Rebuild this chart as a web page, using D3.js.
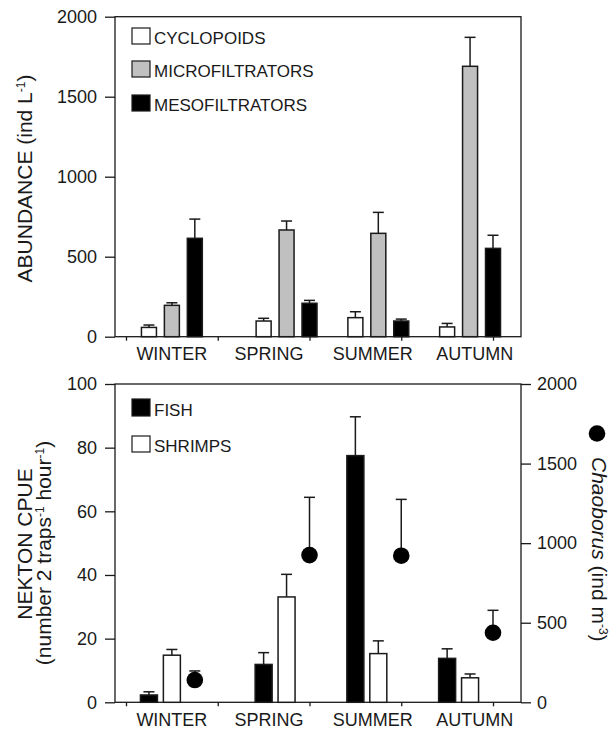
<!DOCTYPE html>
<html>
<head>
<meta charset="utf-8">
<script src="https://cdn.jsdelivr.net/npm/d3@7"></script>
<style>
  html, body { margin: 0; padding: 0; background: #fff; }
  svg { display: block; font-family: "Liberation Sans", Arial, Helvetica, sans-serif; }
</style>
</head>
<body>
<svg id="chart" width="611" height="731"></svg>
<script>
// Seasonal zooplankton abundance (upper panel) and nekton / Chaoborus (lower panel)
const seasons = ["WINTER", "SPRING", "SUMMER", "AUTUMN"];

// Zooplankton abundance (ind L-1) and upper error
const cyclopoids    = [58, 98, 119, 61];
const cyclopoidsErr = [15, 17, 37, 22];
const microfilt     = [196, 667, 646, 1690];
const microfiltErr  = [16, 56, 131, 181];
const mesofilt      = [615, 209, 98, 552];
const mesofiltErr   = [120, 18, 12, 82];

// Nekton CPUE (number 2 traps-1 hour-1)
const fish        = [2.3, 11.9, 77.5, 13.8];
const fishErr     = [1.0, 3.7, 12.2, 3.0];
const shrimps     = [14.8, 33.1, 15.3, 7.7];
const shrimpsErr  = [1.8, 7.1, 4.0, 1.2];

// Chaoborus density (ind m-3)
const chaoborus    = [140, 925, 921, 437];
const chaoborusErr = [57, 363, 354, 141];

// Tick values
const abundanceTicks = [0, 500, 1000, 1500, 2000];
const cpueTicks      = [0, 20, 40, 60, 80, 100];
const chaoborusTicks = [0, 500, 1000, 1500, 2000];
const slotTicks      = [0, 1, 2, 3, 4];

// ---- layout ----
const ink = "#1a1a1a";
const plotLeft = 115, plotRight = 521;
const groupSlot = [0.5, 1.75, 2.75, 3.75];   // centre of each season's group
const labelSlot = [0.5, 1.56, 2.69, 3.8];    // season label positions
const x = d3.scaleLinear().domain([0, 4]).range([126, 493]);

const svg = d3.select("#chart");

const yTop  = d3.scaleLinear().domain([0, 2000]).range([336.7, 16.7]);
const yBot  = d3.scaleLinear().domain([0, 100]).range([702.3, 384]);
const yChao = d3.scaleLinear().domain([0, 2000]).range([702.3, 384]);

function frame(g, y) {
  const [y0, y1] = y.range();
  g.append("rect")
    .attr("x", plotLeft).attr("y", y1)
    .attr("width", plotRight - plotLeft).attr("height", y0 - y1)
    .attr("fill", "none").attr("stroke", ink).attr("stroke-width", 1.3);
}

function styleAxis(g, fontSize) {
  g.select(".domain").remove();
  g.selectAll(".tick line").attr("stroke", ink).attr("stroke-width", 1.3);
  g.selectAll(".tick text").attr("fill", ink).attr("font-size", fontSize)
    .attr("font-family", "Liberation Sans, Arial, sans-serif");
}

function slotAxis(g, y) {
  const ax = g.append("g").attr("transform", `translate(0,${y.range()[0]})`)
    .call(d3.axisBottom(x).tickValues(slotTicks).tickSize(4).tickFormat(""));
  styleAxis(ax, 18);
}

function seasonLabels(g, yPos) {
  g.append("g").selectAll("text").data(seasons).join("text")
    .attr("x", (d, i) => x(labelSlot[i]))
    .attr("y", yPos)
    .attr("text-anchor", "middle")
    .attr("font-size", 18)
    .attr("fill", ink)
    .text(d => d);
}

function bars(g, values, errs, y, offset, width, fill) {
  const gg = g.append("g");
  const cx = i => x(groupSlot[i] + offset);
  // error whiskers (upper only)
  gg.selectAll("line.err").data(values).join("line")
    .attr("x1", (d, i) => cx(i)).attr("x2", (d, i) => cx(i))
    .attr("y1", d => y(d)).attr("y2", (d, i) => y(d + errs[i]))
    .attr("stroke", ink).attr("stroke-width", 1.5);
  gg.selectAll("line.cap").data(values).join("line")
    .attr("x1", (d, i) => cx(i) - 5.5).attr("x2", (d, i) => cx(i) + 5.5)
    .attr("y1", (d, i) => y(d + errs[i])).attr("y2", (d, i) => y(d + errs[i]))
    .attr("stroke", ink).attr("stroke-width", 1.5);
  gg.selectAll("rect").data(values).join("rect")
    .attr("x", (d, i) => cx(i) - width / 2)
    .attr("width", width)
    .attr("y", d => y(d))
    .attr("height", d => y(0) - y(d))
    .attr("fill", fill).attr("stroke", ink).attr("stroke-width", 1.5);
}

function legendRow(g, lx, ly, w, h, fill, label, size) {
  g.append("rect").attr("x", lx).attr("y", ly).attr("width", w).attr("height", h)
    .attr("fill", fill).attr("stroke", ink).attr("stroke-width", 1.2);
  g.append("text").attr("x", lx + w + 4).attr("y", ly + h - 0.5)
    .attr("font-size", size).attr("fill", ink).text(label);
}

// ================= upper panel: zooplankton =================
const upper = svg.append("g");
frame(upper, yTop);
const yAxTop = upper.append("g").attr("transform", `translate(${plotLeft},0)`)
  .call(d3.axisLeft(yTop).tickValues(abundanceTicks).tickSize(10).tickPadding(8).tickFormat(d3.format("d")));
styleAxis(yAxTop, 18);
slotAxis(upper, yTop);

bars(upper, cyclopoids, cyclopoidsErr, yTop, -0.25, 15, "#ffffff");
bars(upper, microfilt, microfiltErr, yTop, 0, 15, "#c0c0c0");
bars(upper, mesofilt, mesofiltErr, yTop, 0.25, 15, "#000000");
seasonLabels(upper, 360);

legendRow(upper, 132, 28, 18, 16, "#ffffff", "CYCLOPOIDS", 17);
legendRow(upper, 132, 61, 18, 16, "#c0c0c0", "MICROFILTRATORS", 17);
legendRow(upper, 132, 95, 18, 16, "#000000", "MESOFILTRATORS", 17);

const tTitle = upper.append("text")
  .attr("transform", "translate(31.5,178.5) rotate(-90)")
  .attr("text-anchor", "middle").attr("font-size", 21).attr("fill", ink);
tTitle.append("tspan").text("ABUNDANCE (ind L");
tTitle.append("tspan").attr("font-size", 12).attr("baseline-shift", "55%").text("-1");
tTitle.append("tspan").text(")");

// ================= lower panel: nekton + Chaoborus =================
const lower = svg.append("g");
frame(lower, yBot);
const yAxBot = lower.append("g").attr("transform", `translate(${plotLeft},0)`)
  .call(d3.axisLeft(yBot).tickValues(cpueTicks).tickSize(10).tickPadding(8).tickFormat(d3.format("d")));
styleAxis(yAxBot, 18);
const yAxChao = lower.append("g").attr("transform", `translate(${plotRight},0)`)
  .call(d3.axisRight(yChao).tickValues(chaoborusTicks).tickSize(10).tickPadding(6).tickFormat(d3.format("d")));
styleAxis(yAxChao, 18);
slotAxis(lower, yBot);

bars(lower, fish, fishErr, yBot, -0.25, 17, "#000000");
bars(lower, shrimps, shrimpsErr, yBot, 0, 17, "#ffffff");

// Chaoborus points with upper whiskers
const cg = lower.append("g");
const chx = i => x(groupSlot[i] + 0.25);
cg.selectAll("line.err").data(chaoborus).join("line")
  .attr("x1", (d, i) => chx(i)).attr("x2", (d, i) => chx(i))
  .attr("y1", d => yChao(d)).attr("y2", (d, i) => yChao(d + chaoborusErr[i]))
  .attr("stroke", ink).attr("stroke-width", 1.5);
cg.selectAll("line.cap").data(chaoborus).join("line")
  .attr("x1", (d, i) => chx(i) - 5.5).attr("x2", (d, i) => chx(i) + 5.5)
  .attr("y1", (d, i) => yChao(d + chaoborusErr[i])).attr("y2", (d, i) => yChao(d + chaoborusErr[i]))
  .attr("stroke", ink).attr("stroke-width", 1.5);
cg.selectAll("circle").data(chaoborus).join("circle")
  .attr("cx", (d, i) => chx(i)).attr("cy", d => yChao(d)).attr("r", 8.3)
  .attr("fill", "#000");

seasonLabels(lower, 726);

legendRow(lower, 132, 399, 18, 17, "#000000", "FISH", 17);
legendRow(lower, 132, 436, 18, 16, "#ffffff", "SHRIMPS", 17);

lower.append("text")
  .attr("transform", "translate(31.5,544) rotate(-90)")
  .attr("text-anchor", "middle").attr("font-size", 21).attr("fill", ink)
  .text("NEKTON CPUE");
const bTitle2 = lower.append("text")
  .attr("transform", "translate(51,553) rotate(-90)")
  .attr("text-anchor", "middle").attr("font-size", 21).attr("fill", ink);
bTitle2.append("tspan").text("(number 2 traps");
bTitle2.append("tspan").attr("font-size", 12).attr("baseline-shift", "55%").text("-1");
bTitle2.append("tspan").text(" hour");
bTitle2.append("tspan").attr("font-size", 12).attr("baseline-shift", "55%").text("-1");
bTitle2.append("tspan").text(")");

// right-hand title with its symbol
lower.append("circle").attr("cx", 597).attr("cy", 433.5).attr("r", 8.3).attr("fill", "#000");
const rTitle = lower.append("text")
  .attr("transform", "translate(592,457) rotate(90)")
  .attr("text-anchor", "start").attr("font-size", 21).attr("fill", ink);
rTitle.append("tspan").attr("font-style", "italic").text("Chaoborus");
rTitle.append("tspan").text(" (ind m");
rTitle.append("tspan").attr("font-size", 12).attr("baseline-shift", "55%").text("-3");
rTitle.append("tspan").text(")");
</script>
</body>
</html>
